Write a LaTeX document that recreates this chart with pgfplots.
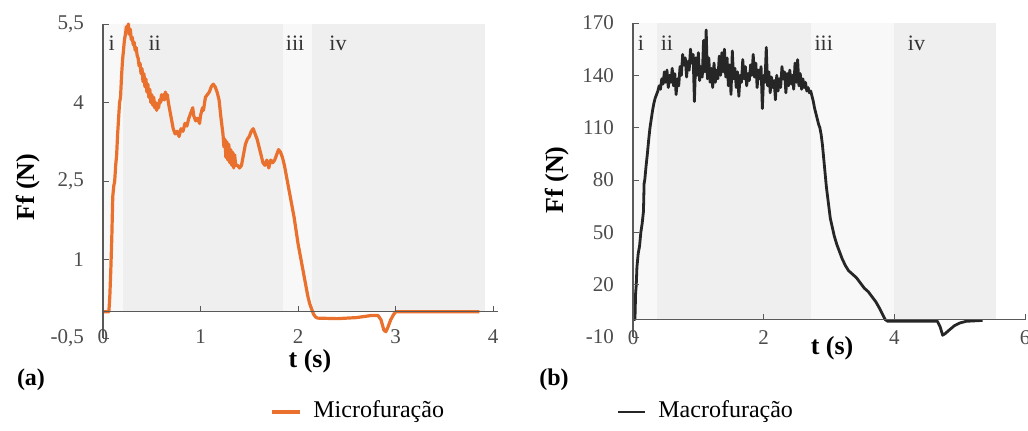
\documentclass[border=0pt]{standalone}
\usepackage{fontspec}
\setmainfont{Liberation Serif}
\usepackage{pgfplots}
\pgfplotsset{compat=1.18}

\definecolor{micro}{RGB}{233,112,45}
\definecolor{shadeA}{RGB}{239,239,239}
\definecolor{shadeB}{RGB}{248,248,248}

\tikzset{roman/.style={font=\fontsize{11}{13}\selectfont, text=black!80}}

\pgfplotsset{
  panel/.style={
    axis on top,
    scale only axis,
    axis x line=middle, axis y line=left,
    axis line style={-, black!65, line width=0.6pt},
    tick align=inside, major tick length=3pt,
    tick style={black!65, line width=0.5pt},
    hide obscured x ticks=false, hide obscured y ticks=false,
    clip=false,
    /pgf/number format/assume math mode=true,
    yticklabel style={font=\fontsize{10.5}{12}\selectfont, text=black!70, xshift=-6pt},
    xlabel style={font=\fontsize{13}{15}\selectfont\bfseries, anchor=center},
    ylabel style={font=\fontsize{13}{15}\selectfont\bfseries, anchor=center},
    xlabel={t (s)}, ylabel={Ff (N)},
  },
}

\pgfplotstableread{
t F
0 0
0.06 0
0.07 0.3
0.08 0.8
0.09 1.4
0.10 2.2
0.11 2.4
0.12 2.5
0.13 2.8
0.14 3.0
0.15 3.4
0.16 3.7
0.17 4.0
0.18 4.1
0.19 4.5
0.20 4.8
0.21 5.0
0.22 5.2
0.23 5.3
0.24 5.45
0.25 5.35
0.26 5.5
0.27 5.3
0.28 5.4
0.29 5.2
0.30 5.25
0.31 5.1
0.32 5.15
0.33 5.0
0.34 5.05
0.35 4.9
0.36 4.85
0.37 4.7
0.38 4.75
0.39 4.55
0.40 4.65
0.41 4.4
0.42 4.55
0.43 4.3
0.44 4.45
0.45 4.2
0.46 4.35
0.47 4.1
0.48 4.25
0.49 4.0
0.50 4.15
0.51 3.95
0.52 4.1
0.53 3.9
0.54 4.0
0.55 3.85
0.56 3.95
0.57 3.9
0.58 4.05
0.59 4.0
0.60 4.15
0.61 4.05
0.62 4.15
0.63 4.05
0.64 4.2
0.65 4.1
0.66 4.15
0.67 4.0
0.68 3.9
0.70 3.7
0.72 3.5
0.74 3.4
0.76 3.45
0.78 3.35
0.80 3.5
0.82 3.45
0.84 3.6
0.86 3.55
0.88 3.7
0.90 3.8
0.92 3.9
0.93 3.75
0.95 3.65
0.97 3.7
0.99 3.6
1.00 3.75
1.02 3.9
1.03 3.85
1.05 4.1
1.07 4.15
1.09 4.2
1.11 4.3
1.13 4.35
1.15 4.3
1.17 4.2
1.19 4.05
1.21 3.7
1.23 3.4
1.24 3.15
1.25 3.3
1.26 2.95
1.27 3.25
1.28 2.9
1.29 3.2
1.30 2.85
1.31 3.1
1.32 2.8
1.33 3.05
1.34 2.75
1.35 3.0
1.36 2.8
1.38 2.8
1.40 2.75
1.42 2.8
1.44 3.0
1.46 3.2
1.48 3.3
1.50 3.35
1.52 3.45
1.54 3.5
1.56 3.4
1.58 3.3
1.60 3.15
1.62 3.0
1.64 2.85
1.66 2.8
1.68 2.9
1.70 2.75
1.72 2.9
1.74 2.85
1.76 2.9
1.78 3.0
1.80 3.1
1.82 3.05
1.84 2.95
1.86 2.8
1.88 2.6
1.90 2.4
1.92 2.2
1.94 2.0
1.96 1.8
1.98 1.55
2.00 1.3
2.02 1.1
2.04 0.9
2.06 0.7
2.08 0.5
2.10 0.3
2.12 0.15
2.14 0.05
2.16 -0.05
2.18 -0.1
2.20 -0.12
2.40 -0.13
2.60 -0.11
2.75 -0.07
2.82 -0.07
2.85 -0.15
2.88 -0.35
2.90 -0.38
2.92 -0.3
2.95 -0.15
2.98 -0.05
3.00 0
3.86 0
}\microdata

\pgfplotstableread{
t F
0 0
0.03 0
0.04 15
0.05 20
0.06 30
0.08 38
0.10 42
0.12 50
0.14 55
0.16 62
0.17 78
0.18 80
0.20 88
0.22 95
0.24 103
0.26 110
0.28 115
0.30 120
0.32 124
0.34 127
0.36 129
0.38 131
0.40 134
0.42 132
0.44 138
0.46 135
0.48 142
0.50 136
0.52 143
0.54 133
0.56 140
0.58 136
0.60 144
0.62 134
0.64 141
0.66 129
0.68 138
0.70 134
0.72 145
0.74 140
0.76 152
0.78 146
0.80 150
0.82 139
0.84 148
0.86 143
0.88 155
0.90 147
0.92 152
0.94 125
0.96 150
0.98 140
1.00 153
1.02 137
1.04 145
1.06 139
1.08 160
1.10 142
1.12 166
1.14 138
1.16 150
1.18 136
1.20 144
1.22 133
1.24 147
1.26 136
1.28 143
1.30 138
1.32 151
1.34 140
1.36 153
1.38 142
1.40 155
1.42 139
1.44 150
1.46 134
1.48 146
1.50 129
1.52 154
1.54 138
1.56 144
1.58 133
1.60 142
1.62 128
1.64 140
1.66 136
1.68 149
1.70 138
1.72 145
1.74 134
1.76 141
1.78 137
1.80 146
1.82 140
1.84 152
1.86 139
1.88 147
1.90 133
1.92 143
1.94 138
1.96 145
1.98 121
2.00 140
2.02 136
2.04 156
2.06 134
2.08 142
2.10 130
2.12 139
2.14 133
2.16 137
2.18 126
2.20 140
2.22 131
2.24 138
2.26 133
2.28 145
2.30 138
2.32 142
2.34 130
2.36 141
2.38 134
2.40 143
2.42 135
2.44 140
2.46 132
2.48 147
2.50 136
2.52 149
2.54 134
2.56 141
2.58 132
2.60 138
2.62 133
2.64 136
2.66 131
2.68 133
2.70 130
2.72 131
2.74 128
2.76 125
2.78 121
2.80 118
2.82 115
2.84 112
2.86 110
2.88 106
2.90 100
2.92 92
2.94 84
2.96 76
2.98 70
3.00 64
3.02 58
3.05 53
3.08 48
3.12 43
3.16 39
3.20 35
3.25 31
3.30 28
3.36 26
3.42 24
3.48 21
3.54 18
3.60 16
3.66 13
3.72 10
3.78 6
3.82 3
3.86 0
3.90 -1
4.66 -1
4.70 -4
4.74 -9
4.78 -8
4.84 -6
4.92 -3.5
5.00 -2
5.10 -1
5.35 -0.5
}\macrodata

\begin{document}
\begin{tikzpicture}
\path[use as bounding box] (-51.5pt,-46pt) rectangle (462.5pt,169pt);

% (a) microfuracao
\begin{axis}[panel,
  at={(0,0)}, anchor=south west,
  width=197.5pt, height=157pt,
  xmin=0, xmax=4.05, ymin=-0.5, ymax=5.5,
  xtick={0,1,2,3,4},
  ytick={-0.5,1,2.5,4,5.5},
  yticklabels={{-0,5},1,{2,5},4,{5,5}},
  xticklabel style={font=\fontsize{10.5}{12}\selectfont, text=black!70, anchor=center, yshift=-12.5pt},
  xlabel style={at={(axis description cs:0.524,-0.075)}},
  ylabel style={at={(axis description cs:-0.19,0.48)}},
]
\fill[shadeB] (axis cs:0,0) rectangle (axis cs:0.2,5.5);
\fill[shadeA] (axis cs:0.2,0) rectangle (axis cs:1.85,5.5);
\fill[shadeB] (axis cs:1.85,0) rectangle (axis cs:2.14,5.5);
\fill[shadeA] (axis cs:2.14,0) rectangle (axis cs:3.92,5.5);
\addplot[micro, line width=1.6pt, line join=round] table[x=t, y=F] {\microdata};
\node[roman] at (axis cs:0.09,5.13) {i};
\node[roman] at (axis cs:0.53,5.13) {ii};
\node[roman] at (axis cs:1.97,5.13) {iii};
\node[roman] at (axis cs:2.41,5.13) {iv};
\end{axis}

% (b) macrofuracao
\begin{axis}[panel,
  at={(265pt,0.5pt)}, anchor=south west,
  width=196pt, height=157pt,
  xmin=0, xmax=6, ymin=-10, ymax=170,
  xtick={0,2,4,6},
  ytick={-10,20,50,80,110,140,170},
  xticklabel style={font=\fontsize{10.5}{12}\selectfont, text=black!70, anchor=center, yshift=-9pt},
  xlabel style={at={(axis description cs:0.508,-0.035)}},
  ylabel style={at={(axis description cs:-0.194,0.5)}},
]
\fill[shadeB] (axis cs:0,0) rectangle (axis cs:0.37,170);
\fill[shadeA] (axis cs:0.37,0) rectangle (axis cs:2.72,170);
\fill[shadeB] (axis cs:2.72,0) rectangle (axis cs:4.0,170);
\fill[shadeA] (axis cs:4.0,0) rectangle (axis cs:5.55,170);
\addplot[black!85, line width=1.4pt, line join=round] table[x=t, y=F] {\macrodata};
\node[roman] at (axis cs:0.12,158.5) {i};
\node[roman] at (axis cs:0.52,158.5) {ii};
\node[roman] at (axis cs:2.92,158.5) {iii};
\node[roman] at (axis cs:4.34,158.5) {iv};
\end{axis}

\node[font=\fontsize{12}{14}\selectfont\bfseries] at (-36pt,-21pt) {(a)};
\node[font=\fontsize{12}{14}\selectfont\bfseries] at (225.5pt,-21pt) {(b)};

% legend
\draw[micro, line width=1.6pt] (84.5pt,-37pt) -- (98.5pt,-37pt);
\node[anchor=west, font=\fontsize{12}{14}\selectfont, inner sep=0pt] at (105pt,-37pt) {Microfuração};
\draw[black!85, line width=1.4pt] (257.5pt,-37pt) -- (271pt,-37pt);
\node[anchor=west, font=\fontsize{12}{14}\selectfont, inner sep=0pt] at (277.5pt,-37pt) {Macrofuração};
\end{tikzpicture}
\end{document}
